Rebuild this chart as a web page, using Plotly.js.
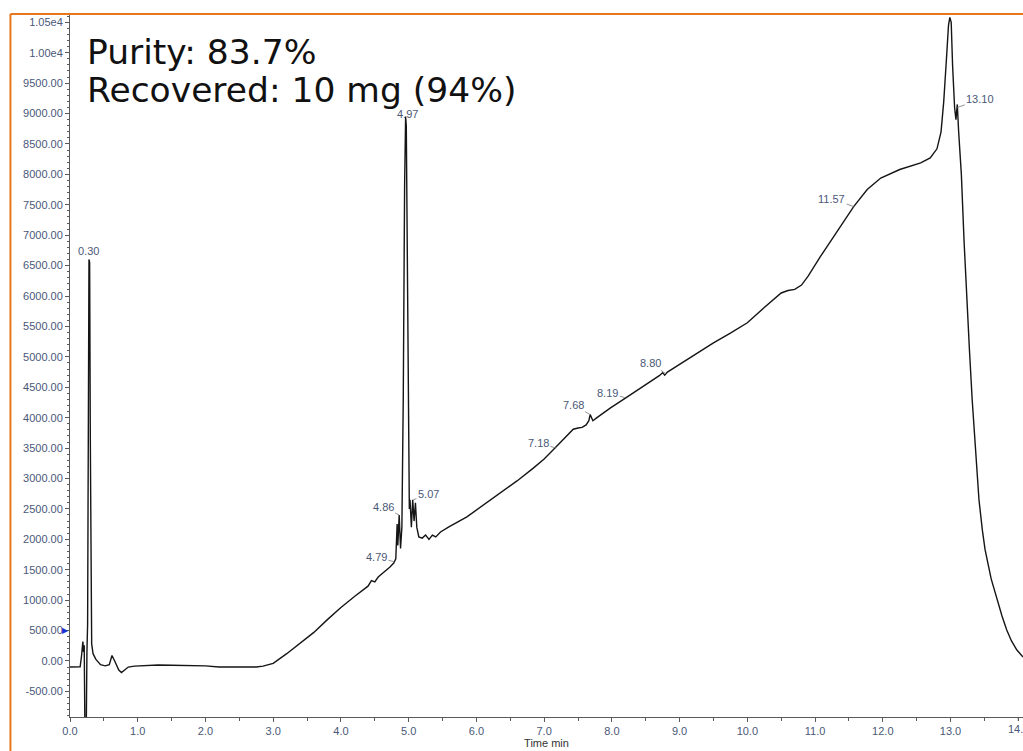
<!DOCTYPE html>
<html>
<head>
<meta charset="utf-8">
<script src="https://cdn.plot.ly/plotly-3.0.1.min.js"></script>
<style>body{margin:0;background:#fff}</style>
</head>
<body>
<div id="chart" style="width:1023px;height:751px"></div>
<script>
// ---- data ----
const times = [0.00,0.10,0.15,0.17,0.19,0.20,0.21,0.22,0.24,0.25,0.26,0.27,0.28,0.29,0.30,0.31,0.32,0.34,0.38,0.45,0.52,0.58,0.62,0.66,0.72,0.76,0.80,0.86,0.95,1.10,1.30,1.50,1.80,2.00,2.20,2.50,2.75,2.85,3.00,3.20,3.40,3.60,3.80,4.00,4.20,4.30,4.40,4.45,4.50,4.55,4.65,4.72,4.78,4.81,4.83,4.84,4.86,4.87,4.88,4.90,4.92,4.94,4.955,4.965,4.98,4.995,5.01,5.02,5.04,5.06,5.08,5.10,5.12,5.15,5.20,5.25,5.30,5.35,5.40,5.47,5.60,5.86,6.10,6.35,6.60,6.84,7.00,7.16,7.25,7.34,7.43,7.50,7.56,7.62,7.66,7.68,7.70,7.72,7.78,7.83,7.98,8.20,8.40,8.60,8.70,8.75,8.78,8.82,9.00,9.25,9.50,9.75,10.00,10.25,10.50,10.60,10.70,10.80,10.90,11.08,11.32,11.57,11.77,11.97,12.25,12.56,12.70,12.80,12.86,12.90,12.94,12.97,12.99,13.01,13.03,13.06,13.08,13.10,13.12,13.16,13.20,13.24,13.28,13.32,13.37,13.42,13.47,13.51,13.60,13.69,13.76,13.83,13.90,13.98,14.07];
const signal = [-100,-100,-95,80,320,150,260,-1100,-1100,150,600,3600,6600,6550,3650,700,280,120,30,-60,-80,-60,90,0,-150,-190,-150,-100,-85,-75,-65,-70,-75,-80,-100,-105,-100,-85,-40,120,290,470,680,880,1060,1150,1230,1320,1300,1380,1470,1540,1610,1680,2250,1900,2400,2000,1850,2200,4300,7800,8950,8800,6200,4500,2500,2650,2200,2650,2300,2600,2200,2040,2020,2070,2000,2070,2040,2120,2210,2370,2560,2760,2960,3170,3320,3500,3600,3700,3810,3830,3840,3880,3950,4050,4000,3950,4000,4040,4160,4320,4470,4610,4690,4740,4700,4750,4880,5050,5230,5390,5560,5810,6050,6090,6110,6180,6330,6650,7060,7470,7750,7940,8080,8190,8270,8420,8700,9200,9900,10450,10580,10500,9800,9100,8900,9150,8700,8000,6900,5940,5100,4290,3400,2650,2150,1830,1350,1000,740,510,330,180,66];

const peakTimes  = [0.30, 4.79, 4.86, 4.97, 5.07, 7.18, 7.68, 8.19, 8.80, 11.57, 13.10];
const peakLabels = ['0.30','4.79','4.86','4.97','5.07','7.18','7.68','8.19','8.80','11.57','13.10'];
const peakHeights = [6600, 1630, 2400, 8900, 2650, 3500, 4050, 4330, 4720, 7470, 9100];

const xTickVals = [0,1,2,3,4,5,6,7,8,9,10,11,12,13,14];
const xTickLabels = ['0.0','1.0','2.0','3.0','4.0','5.0','6.0','7.0','8.0','9.0','10.0','11.0','12.0','13.0','14.0'];
const yTickVals = [-500,0,500,1000,1500,2000,2500,3000,3500,4000,4500,5000,5500,6000,6500,7000,7500,8000,8500,9000,9500,10000,10500];
const yTickLabels = ['-500.00','0.00','500.00','1000.00','1500.00','2000.00','2500.00','3000.00','3500.00','4000.00','4500.00','5000.00','5500.00','6000.00','6500.00','7000.00','7500.00','8000.00','8500.00','9000.00','9500.00','1.00e4','1.05e4'];

const infoLines = ['Purity: 83.7%', 'Recovered: 10 mg (94%)'];
const xTitle = 'Time min';
const markerLevel = 500;

// ---- layout helpers (positions/styles) ----
const labelOffsets = [[-2,-9,false],[-18,-5,true],[-16,-8,true],[1,-6,false],[15,-6,true],[-18,-5,true],[-17,-10,true],[-17,-5,true],[-16,-11,true],[-22,-8,true],[23,-8,true]];
const labelColor = '#4a5878';
const axisColor = '#5a5a5a';
const tickFont = {family:'Liberation Sans, Arial, sans-serif', size:11, color:labelColor};
const X_MAX = 14.07;

const annotations = peakTimes.map((t,i)=>{
  const o = labelOffsets[i];
  const a = {x:t, y:peakHeights[i], xref:'x', yref:'y', text:peakLabels[i],
    font:{family:'Liberation Sans, Arial, sans-serif', size:11, color:labelColor}};
  if (o[2]) {
    Object.assign(a,{showarrow:true, ax:o[0], ay:o[1], arrowhead:0, arrowwidth:0.8, arrowcolor:'#777', standoff:0, startstandoff:0});
  } else {
    Object.assign(a,{showarrow:false, xshift:o[0], yshift:-o[1], yanchor:'middle'});
  }
  return a;
});
annotations.push({xref:'paper', yref:'paper', x:0.0165, y:0.9475, xanchor:'left', yanchor:'middle', showarrow:false, borderpad:0,
  text:infoLines[0], font:{family:'DejaVu Sans, Verdana, sans-serif', size:34.5, color:'#111'}});
annotations.push({xref:'paper', yref:'paper', x:0.0165, y:0.8935, xanchor:'left', yanchor:'middle', showarrow:false, borderpad:0,
  text:infoLines[1], font:{family:'DejaVu Sans, Verdana, sans-serif', size:34.5, color:'#111'}});
annotations.push({xref:'paper', yref:'y', x:0, y:markerLevel, xanchor:'right', yanchor:'middle', showarrow:false,
  text:'\u25B6', font:{family:'DejaVu Sans', size:8, color:'#1a2fd6'}, xshift:1});
// last x tick label sits on the right edge and is clipped in the reference
const lastIdx = xTickVals.length - 1;
annotations.push({xref:'x', yref:'paper', x:xTickVals[lastIdx], y:0, xanchor:'center', yanchor:'top', yshift:-4,
  showarrow:false, text:xTickLabels[lastIdx], font:tickFont});

const trace = {x:times, y:signal, type:'scatter', mode:'lines',
  line:{color:'#151515', width:1.4}, hoverinfo:'skip'};

const orange = '#E8771C';
const layout = {
  width:1023, height:751,
  margin:{l:70, r:0, t:15, b:34},
  paper_bgcolor:'#ffffff', plot_bgcolor:'#ffffff',
  showlegend:false,
  xaxis:{range:[0,X_MAX], tickmode:'array', tickvals:xTickVals.slice(0,lastIdx), ticktext:xTickLabels.slice(0,lastIdx),
    ticks:'outside', ticklen:4, tickcolor:axisColor, showline:true, linecolor:axisColor, linewidth:1,
    showgrid:false, zeroline:false, tickfont:tickFont, automargin:false,
    minor:{tickmode:'linear', tick0:0, dtick:0.5, ticks:'outside', ticklen:3, tickcolor:axisColor, showgrid:false},
    title:{text:xTitle, font:{family:'Liberation Sans, Arial, sans-serif', size:11, color:'#333'}, standoff:3}},
  yaxis:{range:[-921,10620], tickmode:'array', tickvals:yTickVals, ticktext:yTickLabels,
    ticks:'outside', ticklen:4, tickcolor:axisColor, showline:true, linecolor:axisColor, linewidth:1,
    showgrid:false, zeroline:false, tickfont:tickFont, automargin:false,
    minor:{tickmode:'linear', tick0:0, dtick:100, ticks:'outside', ticklen:2, tickcolor:axisColor, showgrid:false}},
  shapes:[
    {type:'line', xref:'paper', yref:'paper', x0:-0.0625, x1:1.01, y0:1.0014, y1:1.0014, line:{color:orange, width:2}},
    {type:'line', xref:'paper', yref:'paper', x0:-0.0625, x1:-0.0625, y0:1.0014, y1:-0.06, line:{color:orange, width:2}},
    {type:'line', xref:'x', yref:'paper', x0:14, x1:14, y0:0, y1:-0.0057, line:{color:axisColor, width:1}}
  ],
  annotations:annotations
};

Plotly.newPlot('chart', [trace], layout, {displayModeBar:false, staticPlot:true});
</script>
</body>
</html>
